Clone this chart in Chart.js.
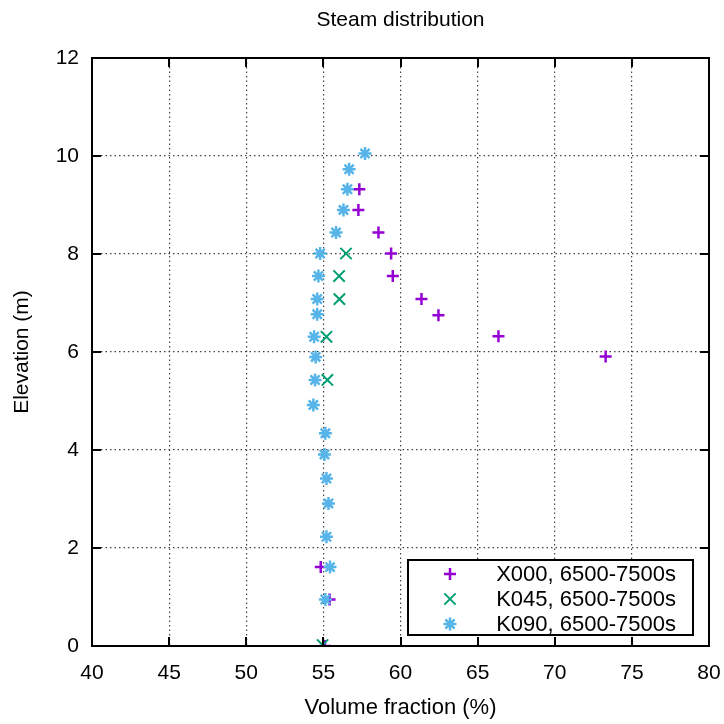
<!DOCTYPE html>
<html>
<head>
<meta charset="utf-8">
<title>Steam distribution</title>
<script src="https://cdn.jsdelivr.net/npm/chart.js@4.4.1/dist/chart.umd.min.js"></script>
<style>
  html, body { margin: 0; padding: 0; background: #fff; }
  #wrap { width: 724px; height: 724px; }
</style>
</head>
<body>
<div id="wrap"><canvas id="steam"></canvas></div>
<script>
// values: volume fraction (%) vs elevation (m)
var x000_frac = [55.1, 55.4, 54.83, 73.3, 66.35, 62.46, 61.36, 59.5, 59.39, 58.57, 57.27, 57.33];
var x000_elev = [0.0, 0.95, 1.61, 5.91, 6.32, 6.75, 7.08, 7.55, 8.01, 8.44, 8.9, 9.32];

var k045_frac = [54.95, 55.26, 55.2, 56.04, 56.02, 56.47];
var k045_elev = [0.02, 5.43, 6.31, 7.08, 7.55, 8.01];

var k090_frac = [55.13, 55.43, 55.2, 55.33, 55.2, 55.07, 55.13, 54.35, 54.46, 54.5, 54.4, 54.6, 54.6, 54.68, 54.79, 55.82, 56.3, 56.56, 56.67, 57.7];
var k090_elev = [0.95, 1.61, 2.23, 2.91, 3.42, 3.91, 4.34, 4.92, 5.43, 5.9, 6.31, 6.77, 7.08, 7.55, 8.01, 8.44, 8.9, 9.32, 9.73, 10.05];

var series_labels = ["X000, 6500-7500s", "K045, 6500-7500s", "K090, 6500-7500s"];
var x_ticks = [40, 45, 50, 55, 60, 65, 70, 75, 80];
var y_ticks = [0, 2, 4, 6, 8, 10, 12];
var chart_title = "Steam distribution";

var FONT = "'Liberation Sans', Arial, Helvetica, sans-serif";

function toPoints(xs, ys) {
	var pts = [];
	for (var i = 0; i < xs.length; i++) {
		pts.push({ x: xs[i], y: ys[i] });
	}
	return pts;
}

// gnuplot style frame: box all round, ticks pointing inwards,
// title centred over the plot box rather than the canvas
var framePlugin = {
	id: 'frame',
	afterDatasetsDraw: function (chart) {
		var ctx = chart.ctx;
		var a = chart.chartArea;
		var xs = chart.scales.x, ys = chart.scales.y;
		var tl = 9;
		ctx.save();
		ctx.strokeStyle = '#000';
		ctx.lineWidth = 2;
		ctx.beginPath();
		for (var i = 0; i < x_ticks.length; i++) {
			var px = Math.round(xs.getPixelForValue(x_ticks[i]));
			ctx.moveTo(px, a.bottom); ctx.lineTo(px, a.bottom - tl);
			ctx.moveTo(px, a.top); ctx.lineTo(px, a.top + tl);
		}
		for (var j = 0; j < y_ticks.length; j++) {
			var py = Math.round(ys.getPixelForValue(y_ticks[j]));
			ctx.moveTo(a.left, py); ctx.lineTo(a.left + tl, py);
			ctx.moveTo(a.right, py); ctx.lineTo(a.right - tl, py);
		}
		ctx.stroke();
		ctx.strokeRect(a.left, a.top, a.right - a.left, a.bottom - a.top);

		ctx.fillStyle = '#000';
		ctx.font = '21px ' + FONT;
		ctx.textAlign = 'center';
		ctx.textBaseline = 'middle';
		ctx.fillText(chart_title, (a.left + a.right) / 2, 20);
		ctx.restore();
	}
};

// key box inside the plot, lower right
var keyPlugin = {
	id: 'key',
	afterDraw: function (chart) {
		var ctx = chart.ctx;
		var a = chart.chartArea;
		var right = a.right - 16, bottom = a.bottom - 11;
		var left = right - 285, top = bottom - 75;
		ctx.save();
		ctx.fillStyle = '#fff';
		ctx.fillRect(left, top, right - left, bottom - top);
		ctx.strokeStyle = '#000';
		ctx.lineWidth = 2;
		ctx.strokeRect(left, top, right - left, bottom - top);
		ctx.font = '22px ' + FONT;
		ctx.textAlign = 'right';
		ctx.textBaseline = 'middle';
		var dsets = chart.data.datasets;
		for (var i = 0; i < dsets.length; i++) {
			var ds = dsets[i];
			var cy = top + 14 + i * 25;
			ctx.strokeStyle = ds.borderColor;
			ctx.lineWidth = ds.borderWidth;
			Chart.helpers.drawPoint(ctx, { pointStyle: ds.pointStyle, radius: ds.pointRadius, rotation: 0, borderWidth: ds.borderWidth }, left + 42, cy);
			ctx.fillStyle = '#000';
			ctx.fillText(ds.label, right - 17, cy + 1);
		}
		ctx.restore();
	}
};

var ctx = document.getElementById('steam').getContext('2d');
var steamChart = new Chart(ctx, {
	type: 'scatter',
	data: {
		datasets: [{
			label: series_labels[0],
			data: toPoints(x000_frac, x000_elev),
			pointStyle: 'cross',
			pointRadius: 6,
			borderWidth: 2.5,
			borderColor: '#9400d3',
			backgroundColor: '#9400d3',
			order: 2
		}, {
			label: series_labels[1],
			data: toPoints(k045_frac, k045_elev),
			pointStyle: 'crossRot',
			pointRadius: 8,
			borderWidth: 2,
			borderColor: '#009e73',
			backgroundColor: '#009e73',
			order: 1
		}, {
			label: series_labels[2],
			data: toPoints(k090_frac, k090_elev),
			pointStyle: 'star',
			pointRadius: 6.5,
			borderWidth: 2.5,
			borderColor: '#56b4e9',
			backgroundColor: '#56b4e9',
			order: 0
		}]
	},
	options: {
		responsive: true,
		maintainAspectRatio: false,
		animation: false,
		layout: { padding: { left: 0, right: 15, top: 58, bottom: 0 } },
		plugins: {
			legend: { display: false },
			tooltip: { enabled: false },
			title: { display: false }
		},
		scales: {
			x: {
				type: 'linear',
				min: 40,
				max: 80,
				afterBuildTicks: function (scale) {
					scale.ticks = x_ticks.map(function (v) { return { value: v }; });
				},
				afterFit: function (scale) {
					scale.height = 78;
					scale.paddingLeft = 0;
					scale.paddingRight = 0;
				},
				grid: {
					color: '#444',
					lineWidth: 1.2,
					drawTicks: false
				},
				border: { display: false, dash: [1.5, 3] },
				ticks: {
					color: '#000',
					padding: 15,
					maxRotation: 0,
					font: { family: FONT, size: 21 }
				},
				title: {
					display: true,
					text: 'Volume fraction (%)',
					color: '#000',
					font: { family: FONT, size: 22 },
					padding: { top: 0, bottom: 3 }
				}
			},
			y: {
				type: 'linear',
				min: 0,
				max: 12,
				afterBuildTicks: function (scale) {
					scale.ticks = y_ticks.map(function (v) { return { value: v }; });
				},
				afterFit: function (scale) {
					scale.width = 92;
					scale.paddingTop = 0;
					scale.paddingBottom = 0;
				},
				grid: {
					color: '#444',
					lineWidth: 1.2,
					drawTicks: false
				},
				border: { display: false, dash: [1.5, 3] },
				ticks: {
					color: '#000',
					padding: 13,
					font: { family: FONT, size: 21 }
				},
				title: {
					display: true,
					text: 'Elevation (m)',
					color: '#000',
					font: { family: FONT, size: 21 },
					padding: { top: 10, bottom: 0 }
				}
			}
		}
	},
	plugins: [framePlugin, keyPlugin]
});
</script>
</body>
</html>
